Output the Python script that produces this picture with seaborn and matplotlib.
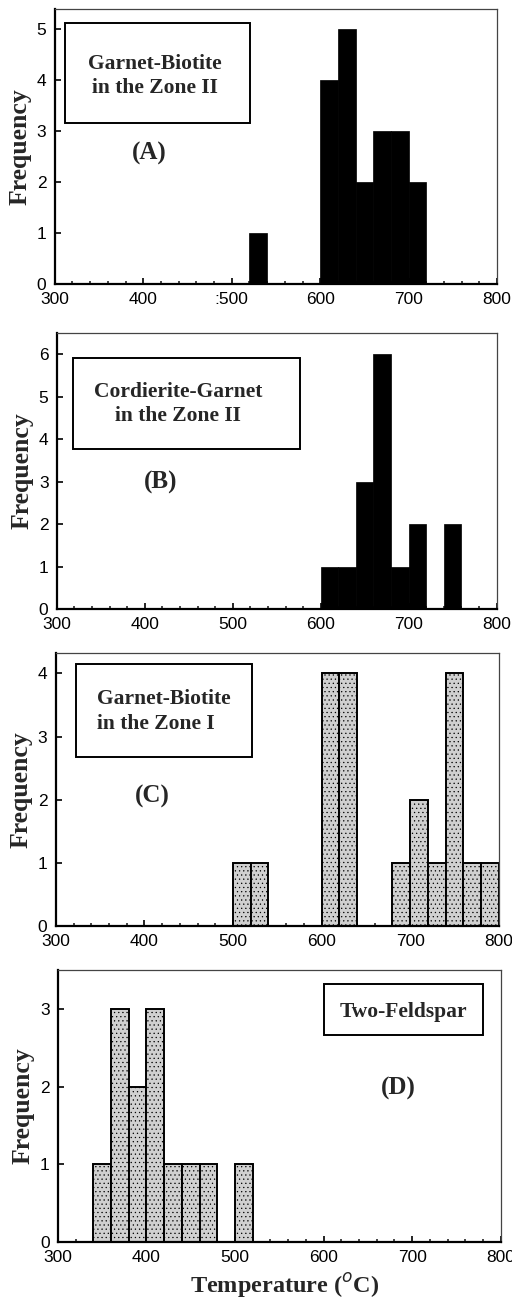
import numpy as np
import pandas as pd
import matplotlib
matplotlib.use("Agg")
import matplotlib.pyplot as plt
import seaborn as sns
from matplotlib.patches import Rectangle

sns.set_theme(style="white")
plt.rcParams['font.family'] = ['Liberation Serif', 'DejaVu Serif']
plt.rcParams['hatch.linewidth'] = 0.4

# ---- data: bin left edges (°C) and counts ----
bins_edges = list(range(300, 820, 20))

a_left = [520, 600, 620, 640, 660, 680, 700]
a_count = [1, 4, 5, 2, 3, 3, 2]

b_left = [600, 620, 640, 660, 680, 700, 740]
b_count = [1, 1, 3, 6, 1, 2, 2]

c_left = [500, 520, 600, 620, 680, 700, 720, 740, 760, 780]
c_count = [1, 1, 4, 4, 1, 2, 1, 4, 1, 1]

d_left = [340, 360, 380, 400, 420, 440, 460, 500]
d_count = [1, 3, 2, 3, 1, 1, 1, 1]

x_ticks = [300, 400, 500, 600, 700, 800]
x_ticklabels = ["300", "400", ":500", "600", "700", "800"]
x_ticklabels_plain = ["300", "400", "500", "600", "700", "800"]

labels_box = ["Garnet-Biotite\nin the Zone II",
              "Cordierite-Garnet\nin the Zone II",
              "Garnet-Biotite\nin the Zone I",
              "Two-Feldspar"]
letters = ["(A)", "(B)", "(C)", "(D)"]
ylims = [5.4, 6.5, 4.32, 3.5]

fig = plt.figure(figsize=(5.12, 13.01), dpi=100)

axes_pos = [
    [0.107, 0.7817, 0.864, 0.2114],
    [0.111, 0.5319, 0.859, 0.2121],
    [0.109, 0.2882, 0.865, 0.2098],
    [0.113, 0.0453, 0.865, 0.2091],
]

panels = [
    (a_left, a_count, "black", 5, None),
    (b_left, b_count, "black", 6, None),
    (c_left, c_count, "#d0d0d0", 4, "...."),
    (d_left, d_count, "#d0d0d0", 3, "...."),
]

box_rects = [
    (0.023, 0.585, 0.418, 0.364),
    (0.036, 0.580, 0.516, 0.329),
    (0.045, 0.619, 0.397, 0.341),
    (0.600, 0.761, 0.359, 0.188),
]
box_text = [
    (0.226, 0.756, 'center'),
    (0.275, 0.743, 'center'),
    (0.0926, 0.786, 'left'),
    (0.781, 0.846, 'center'),
]
letter_pos = [(0.213, 0.476), (0.236, 0.460), (0.218, 0.473), (0.768, 0.566)]

for i, (pos, (lefts, counts, col, ymaxtick, hatch)) in enumerate(zip(axes_pos, panels)):
    ax = fig.add_axes(pos)
    df = pd.DataFrame({"temp": np.array(lefts) + 10, "n": counts})
    sns.histplot(data=df, x="temp", weights="n", bins=bins_edges, ax=ax,
                 color=col, edgecolor="black", linewidth=1.4 if hatch else 0.5,
                 alpha=1, hatch=hatch)
    ax.set_xlim(300, 800)
    ax.set_ylim(0, ylims[i])
    ax.set_xticks(x_ticks)
    ax.set_xticklabels(x_ticklabels if i == 0 else x_ticklabels_plain,
                       family=['Liberation Sans', 'DejaVu Sans'])
    ax.set_xticks(range(300, 801, 20), minor=True)
    ax.set_yticks(range(0, ymaxtick + 1))
    ax.set_yticklabels([str(v) for v in range(0, ymaxtick + 1)],
                       family=['Liberation Sans', 'DejaVu Sans'])
    ax.tick_params(axis='x', which='major', direction='in', length=4,
                   width=1.2, labelsize=12.5, colors='black', pad=6)
    ax.tick_params(axis='y', which='major', direction='in', length=4,
                   width=1.2, labelsize=12.5, colors='black', pad=6)
    ax.tick_params(axis='x', which='minor', direction='in', length=2.5,
                   width=1.2, bottom=True)
    ax.tick_params(left=True, bottom=True)
    ax.set_xlabel("")
    ax.set_ylabel("Frequency", fontsize=18.5, fontweight='bold', labelpad=4)
    for s in ['left', 'bottom']:
        ax.spines[s].set_linewidth(1.6)
        ax.spines[s].set_color('black')
    for s in ['top', 'right']:
        ax.spines[s].set_linewidth(0.9)
        ax.spines[s].set_color('#444444')
    bx, by, bw, bh = box_rects[i]
    ax.add_patch(Rectangle((bx, by), bw, bh, transform=ax.transAxes,
                           fill=False, edgecolor='black', linewidth=1.4))
    tx, ty, ha = box_text[i]
    ax.text(tx, ty, labels_box[i], transform=ax.transAxes, ha=ha, va='center',
            fontsize=15.5, fontweight='bold', linespacing=1.3)
    lx, ly = letter_pos[i]
    ax.text(lx, ly, letters[i], transform=ax.transAxes, ha='center',
            va='center', fontsize=18, fontweight='bold')

fig.text(285 / 512, 1 - 1286 / 1301, "Temperature ($^{o}$C)", ha='center',
         va='center', fontsize=17.5, fontweight='bold')

fig.savefig("out.png", dpi=100)
